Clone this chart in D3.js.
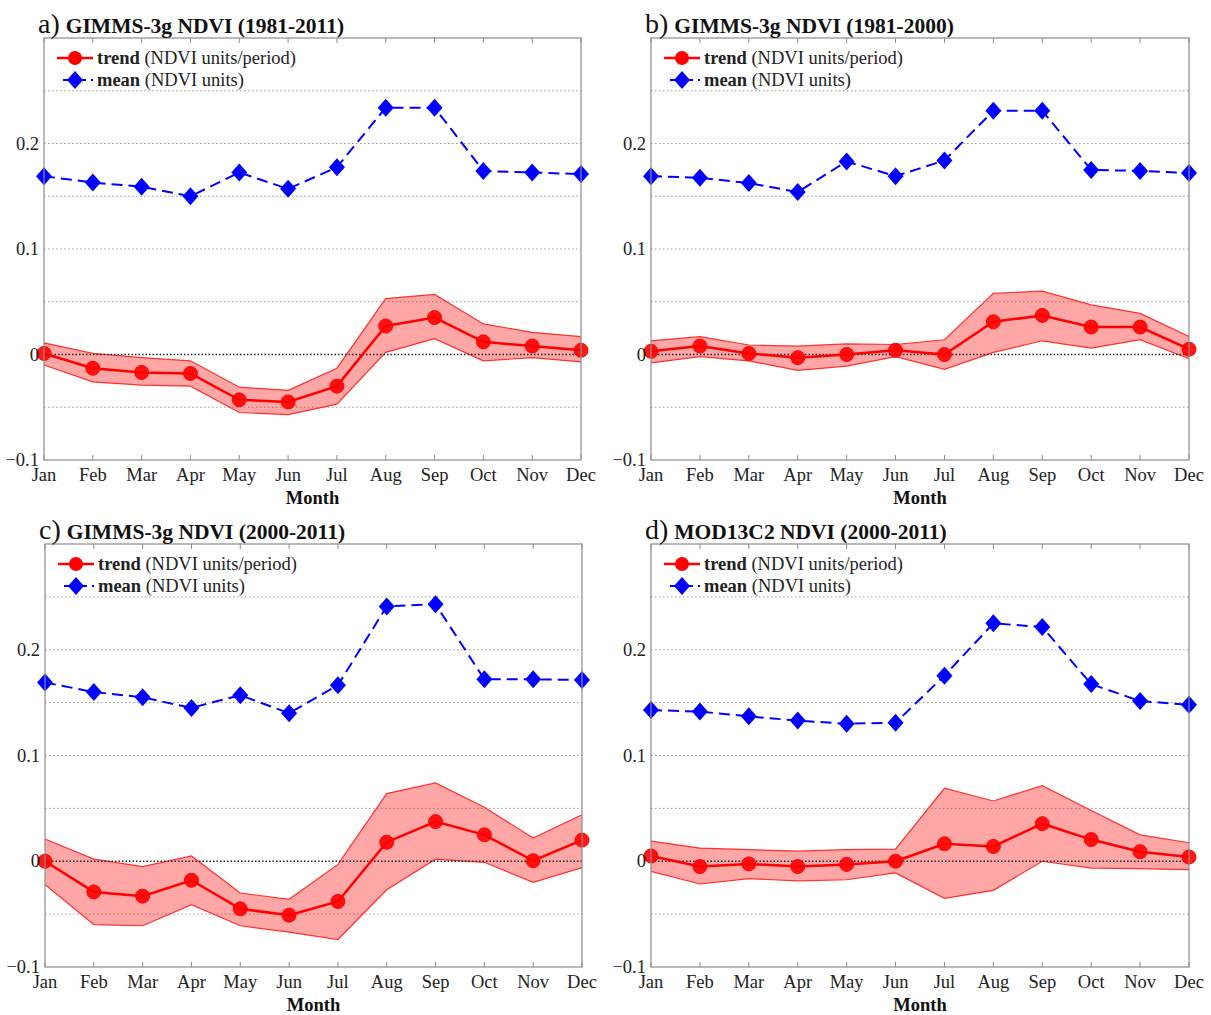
<!DOCTYPE html>
<html><head><meta charset="utf-8">
<script src="https://cdn.jsdelivr.net/npm/d3@7"></script>
<style>body{margin:0;background:#fff}svg{display:block}</style>
</head><body>
<script>
const months = ["Jan","Feb","Mar","Apr","May","Jun","Jul","Aug","Sep","Oct","Nov","Dec"];
const yTickLabels = [-0.1, 0, 0.1, 0.2];
const gridValues = [-0.05, 0.05, 0.1, 0.15, 0.2, 0.25];

const panelLetters = ["a)", "b)", "c)", "d)"];
const panelTitles = ["GIMMS-3g NDVI (1981-2011)", "GIMMS-3g NDVI (1981-2000)", "GIMMS-3g NDVI (2000-2011)", "MOD13C2 NDVI (2000-2011)"];

const meanA  = [0.169,0.163,0.159,0.150,0.1725,0.157,0.1775,0.234,0.234,0.174,0.1725,0.171];
const trendA = [0.001,-0.013,-0.017,-0.018,-0.043,-0.045,-0.030,0.027,0.035,0.012,0.008,0.004];
const upperA = [0.011,0.001,-0.003,-0.006,-0.031,-0.034,-0.013,0.053,0.057,0.029,0.021,0.017];
const lowerA = [-0.010,-0.026,-0.029,-0.030,-0.055,-0.057,-0.047,0.002,0.015,-0.006,-0.003,-0.007];

const meanB  = [0.169,0.1675,0.1625,0.154,0.183,0.169,0.184,0.231,0.231,0.175,0.174,0.172];
const trendB = [0.003,0.008,0.001,-0.003,0.000,0.004,0.000,0.031,0.037,0.026,0.026,0.005];
const upperB = [0.013,0.017,0.009,0.008,0.010,0.0095,0.014,0.058,0.060,0.047,0.039,0.017];
const lowerB = [-0.008,-0.002,-0.006,-0.015,-0.011,-0.002,-0.014,0.002,0.013,0.006,0.014,-0.004];

const meanC  = [0.169,0.160,0.155,0.145,0.157,0.140,0.1665,0.241,0.243,0.172,0.172,0.1715];
const trendC = [0.000,-0.029,-0.033,-0.018,-0.045,-0.051,-0.038,0.018,0.0375,0.025,0.0005,0.020];
const upperC = [0.021,0.002,-0.005,0.005,-0.030,-0.036,-0.003,0.064,0.074,0.051,0.022,0.044];
const lowerC = [-0.022,-0.060,-0.061,-0.041,-0.061,-0.067,-0.074,-0.027,0.002,-0.001,-0.020,-0.006];

const meanD  = [0.143,0.1415,0.137,0.133,0.130,0.131,0.1755,0.225,0.2215,0.1675,0.1515,0.148];
const trendD = [0.005,-0.005,-0.0025,-0.005,-0.003,0.000,0.0165,0.014,0.0355,0.0205,0.009,0.004];
const upperD = [0.019,0.0125,0.011,0.0095,0.011,0.0115,0.069,0.057,0.0715,0.048,0.025,0.0175];
const lowerD = [-0.0095,-0.0215,-0.0165,-0.0185,-0.0175,-0.011,-0.035,-0.0275,0.000,-0.0065,-0.007,-0.008];

const legendTrend = ["trend", " (NDVI units/period)"];
const legendMean = ["mean", " (NDVI units)"];
const xLabel = "Month";

const panels = [
  {letter: panelLetters[0], title: panelTitles[0], mean: meanA, trend: trendA, upper: upperA, lower: lowerA, box: [44, 38, 581, 460]},
  {letter: panelLetters[1], title: panelTitles[1], mean: meanB, trend: trendB, upper: upperB, lower: lowerB, box: [651, 38, 1189, 460]},
  {letter: panelLetters[2], title: panelTitles[2], mean: meanC, trend: trendC, upper: upperC, lower: lowerC, box: [45, 544, 582, 967]},
  {letter: panelLetters[3], title: panelTitles[3], mean: meanD, trend: trendD, upper: upperD, lower: lowerD, box: [651, 544, 1189, 967]}
];

const W = 1211, H = 1015;
const FONT = "'Liberation Serif','Times New Roman',serif";
const svg = d3.select("body").append("svg").attr("width", W).attr("height", H)
  .style("font-family", FONT);
svg.append("rect").attr("width", W).attr("height", H).attr("fill", "#fff");

function diamondPath(cx, cy, rx, ry) {
  return `M${cx},${cy-ry}L${cx+rx},${cy}L${cx},${cy+ry}L${cx-rx},${cy}Z`;
}

panels.forEach(p => {
  const [x0, y0, x1, y1] = p.box;
  const x = d3.scalePoint().domain(months).range([x0, x1]);
  const y = d3.scaleLinear().domain([-0.1, 0.3]).range([y1, y0]);
  const g = svg.append("g");

  g.selectAll(".grid").data(gridValues).join("line")
    .attr("x1", x0).attr("x2", x1)
    .attr("y1", d => y(d)).attr("y2", d => y(d))
    .attr("stroke", "#999").attr("stroke-width", 1).attr("stroke-dasharray", "1.5,2.5");

  const idx = d3.range(months.length);
  const area = d3.area().x(i => x(months[i])).y0(i => y(p.lower[i])).y1(i => y(p.upper[i]));
  g.append("path").datum(idx).attr("d", area).attr("fill", "#ff0000").attr("fill-opacity", 0.35);
  const lineU = d3.line().x(i => x(months[i])).y(i => y(p.upper[i]));
  const lineL = d3.line().x(i => x(months[i])).y(i => y(p.lower[i]));
  g.append("path").datum(idx).attr("d", lineU).attr("fill", "none").attr("stroke", "#ff3030").attr("stroke-width", 1.2);
  g.append("path").datum(idx).attr("d", lineL).attr("fill", "none").attr("stroke", "#ff3030").attr("stroke-width", 1.2);

  g.append("line").attr("x1", x0).attr("x2", x1).attr("y1", y(0)).attr("y2", y(0))
    .attr("stroke", "#222").attr("stroke-width", 1.3).attr("stroke-dasharray", "1.5,2");

  const lineT = d3.line().x(i => x(months[i])).y(i => y(p.trend[i]));
  g.append("path").datum(idx).attr("d", lineT).attr("fill", "none").attr("stroke", "#ff0000").attr("stroke-width", 2.5);
  g.selectAll(".tc").data(idx).join("circle")
    .attr("cx", i => x(months[i])).attr("cy", i => y(p.trend[i])).attr("r", 7)
    .attr("fill", "#ff0000").attr("fill-opacity", 0.9).attr("stroke", "#ff0000");

  const lineM = d3.line().x(i => x(months[i])).y(i => y(p.mean[i]));
  g.append("path").datum(idx).attr("d", lineM).attr("fill", "none").attr("stroke", "#0000ff")
    .attr("stroke-width", 2).attr("stroke-dasharray", "11,6");
  g.selectAll(".md").data(idx).join("path")
    .attr("d", i => diamondPath(x(months[i]), y(p.mean[i]), 8, 9))
    .attr("fill", "#0000ff");

  g.append("rect").attr("x", x0).attr("y", y0).attr("width", x1 - x0).attr("height", y1 - y0)
    .attr("fill", "none").attr("stroke", "#8c8c8c").attr("stroke-width", 1.2);

  g.selectAll(".tb").data(months).join("line")
    .attr("x1", d => x(d)).attr("x2", d => x(d)).attr("y1", y1).attr("y2", y1 - 5)
    .attr("stroke", "#8c8c8c");
  g.selectAll(".tt").data(months).join("line")
    .attr("x1", d => x(d)).attr("x2", d => x(d)).attr("y1", y0).attr("y2", y0 + 5)
    .attr("stroke", "#8c8c8c");

  g.selectAll(".xl").data(months).join("text")
    .attr("x", d => x(d)).attr("y", y1 + 21).attr("text-anchor", "middle")
    .attr("font-size", 18.5).attr("fill", "#222").text(d => d);
  g.append("text").attr("x", (x0 + x1) / 2).attr("y", y1 + 44).attr("text-anchor", "middle")
    .attr("font-size", 18.5).attr("font-weight", "bold").attr("fill", "#111").text(xLabel);

  g.selectAll(".yl").data(yTickLabels).join("text")
    .attr("x", x0 - 5).attr("y", d => y(d) + 6).attr("text-anchor", "end")
    .attr("font-size", 18.5).attr("fill", "#222").text(d => d === 0 ? "0" : d3.format("")(d));

  const t = g.append("text").attr("x", x0 - 6).attr("y", y0 - 5).attr("fill", "#111");
  t.append("tspan").attr("font-size", 28).text(p.letter);
  t.append("tspan").attr("font-size", 21.5).attr("font-weight", "bold").attr("dx", 6).text(p.title);

  const lx = x0 + 13, ly1 = y0 + 20, ly2 = y0 + 42;
  g.append("line").attr("x1", lx).attr("x2", lx + 36).attr("y1", ly1).attr("y2", ly1)
    .attr("stroke", "#ff0000").attr("stroke-width", 2.5);
  g.append("circle").attr("cx", lx + 18).attr("cy", ly1).attr("r", 7).attr("fill", "#ff0000");
  const t1 = g.append("text").attr("x", lx + 40).attr("y", ly1 + 6).attr("font-size", 18.5).attr("fill", "#222");
  t1.append("tspan").attr("font-weight", "bold").text(legendTrend[0]);
  t1.append("tspan").text(legendTrend[1]);

  g.append("line").attr("x1", lx + 6).attr("x2", lx + 36).attr("y1", ly2).attr("y2", ly2)
    .attr("stroke", "#0000ff").attr("stroke-width", 2).attr("stroke-dasharray", "9,5");
  g.append("path").attr("d", diamondPath(lx + 18, ly2, 8, 9)).attr("fill", "#0000ff");
  const t2 = g.append("text").attr("x", lx + 40).attr("y", ly2 + 6).attr("font-size", 18.5).attr("fill", "#222");
  t2.append("tspan").attr("font-weight", "bold").text(legendMean[0]);
  t2.append("tspan").text(legendMean[1]);
});
</script>
</body></html>
